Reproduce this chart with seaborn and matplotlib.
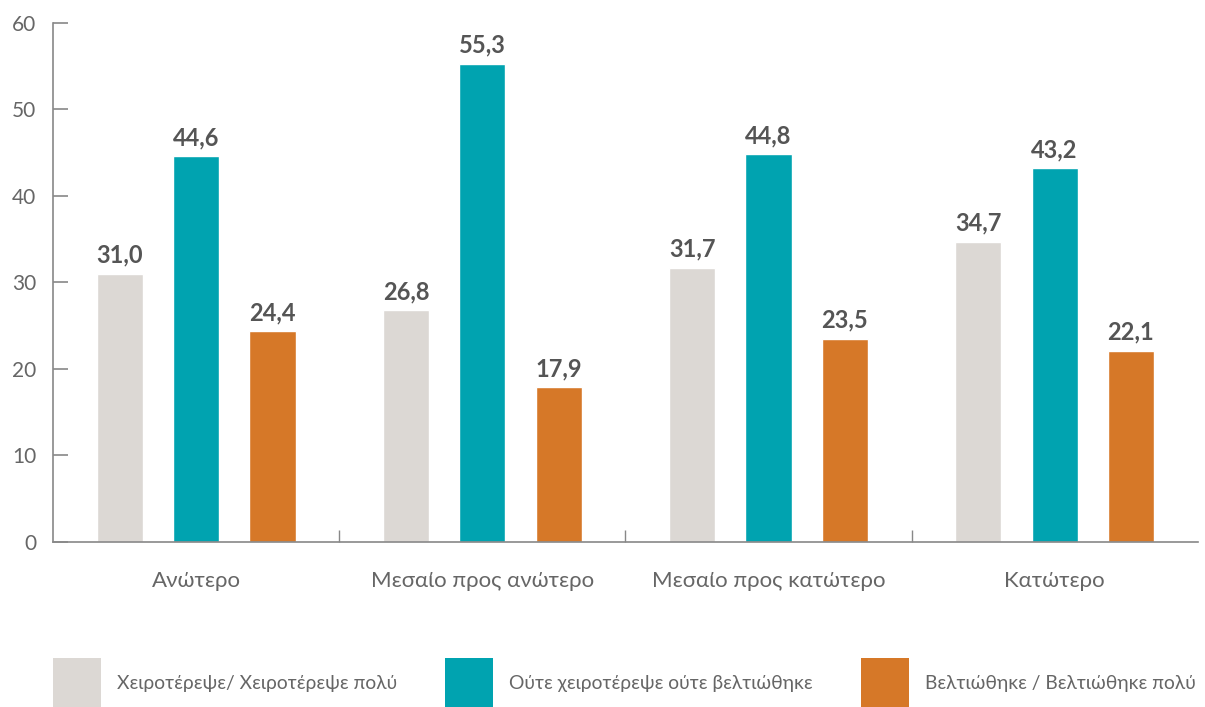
import matplotlib
matplotlib.use("Agg")
import matplotlib.pyplot as plt
import seaborn as sns
import pandas as pd
from matplotlib.patches import Patch
from matplotlib.ticker import FixedLocator

# Categories and series
categories = ["Ανώτερο", "Μεσαίο προς ανώτερο", "Μεσαίο προς κατώτερο", "Κατώτερο"]
series_names = [
    "Χειροτέρεψε/ Χειροτέρεψε πολύ",
    "Ούτε χειροτέρεψε ούτε βελτιώθηκε",
    "Βελτιώθηκε / Βελτιώθηκε πολύ",
]
worse = [31.0, 26.8, 31.7, 34.7]
same = [44.6, 55.3, 44.8, 43.2]
better = [24.4, 17.9, 23.5, 22.1]
yticks = [0, 10, 20, 30, 40, 50, 60]

colors = ["#DCD8D4", "#00A3B0", "#D67828"]

sns.set_theme(style="white")
plt.rcParams["font.family"] = ["Lato", "Noto Sans", "DejaVu Sans"]

rows = []
for name, vals in zip(series_names, [worse, same, better]):
    for cat, v in zip(categories, vals):
        rows.append({"cat": cat, "series": name, "value": v})
df = pd.DataFrame(rows)

fig = plt.figure(figsize=(12.05, 7.07), dpi=100)
ax = fig.add_axes([0.044, 0.2334, 0.950, 0.7341])

sns.barplot(data=df, x="cat", y="value", hue="series", order=categories,
            hue_order=series_names, palette=colors, width=0.8, gap=0.395,
            saturation=1, legend=False, ax=ax)

text_color = "#666666"
for cont in ax.containers:
    ax.bar_label(cont, labels=[f"{b.get_height():.1f}".replace(".", ",") for b in cont],
                 padding=5, fontsize=17, fontweight="bold", color="#555555")

ax.set_xlim(-0.5, len(categories) - 0.5)
ax.set_ylim(0, 60)
ax.set_yticks(yticks)
ax.set_yticklabels([str(t) for t in yticks], fontsize=15, color=text_color)
ax.set_xlabel("")
ax.set_ylabel("")
ax.tick_params(axis="y", direction="in", length=11, width=1.2, color="#888888", pad=12, left=True)
ax.tick_params(axis="x", which="major", length=0, pad=21, labelsize=16, labelcolor=text_color)
ax.xaxis.set_minor_locator(FixedLocator([0.5, 1.5, 2.5]))
ax.tick_params(axis="x", which="minor", direction="in", length=9, width=1.0, color="#888888", bottom=True)

for side in ["top", "right"]:
    ax.spines[side].set_visible(False)
for side in ["left", "bottom"]:
    ax.spines[side].set_color("#888888")
    ax.spines[side].set_linewidth(1.2)

fs = 13.9
px = fs * 100 / 72
handles = [Patch(facecolor=c, edgecolor="none") for c in colors]
fig.legend(handles, series_names, loc="lower left", bbox_to_anchor=(0.044, -0.002),
           ncol=3, frameon=False, fontsize=fs, labelcolor=text_color,
           handlelength=48 / px, handleheight=(50 / px - 0.245) / 0.65,
           handletextpad=16 / px, columnspacing=48 / px,
           borderaxespad=0, borderpad=0)

fig.savefig("out.png", dpi=100)
